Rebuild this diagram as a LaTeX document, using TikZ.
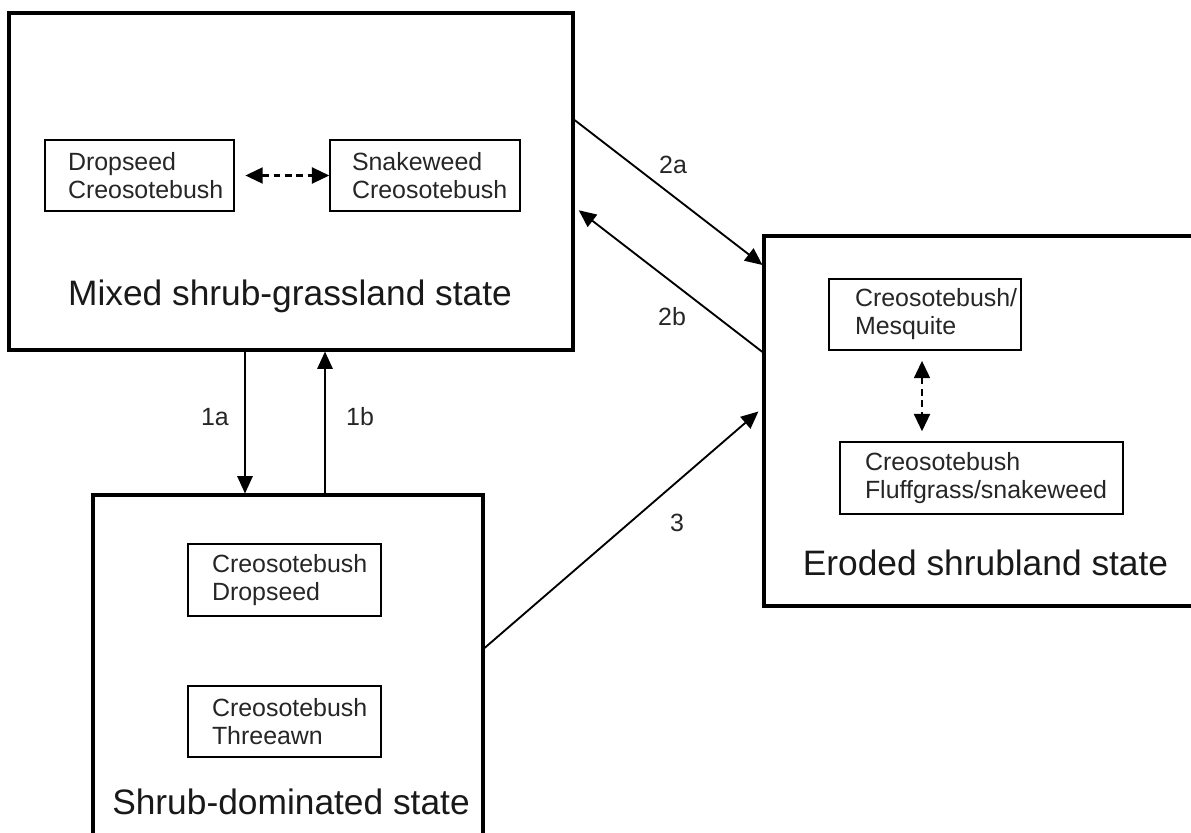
\documentclass[tikz,border=0pt]{standalone}
\usepackage{fontspec}
\setmainfont{Liberation Sans}
\usetikzlibrary{arrows.meta}
\begin{document}
\begin{tikzpicture}[x=0.75pt,y=-0.75pt,
  statebox/.style={draw, line width=2.3pt, inner sep=0pt},
  subbox/.style={draw, line width=1.1pt, inner ysep=0pt, align=left, text=black!85,
    font=\fontsize{18.7}{21}\selectfont, minimum height=53.5pt},
  title/.style={font=\fontsize{26.5}{30}\selectfont, inner sep=0pt, anchor=base, text=black!90},
  lab/.style={font=\fontsize{18.7}{21}\selectfont, inner sep=0pt, text=black!85},
  trans/.style={line width=1.4pt, -{Triangle[length=13pt,width=11.5pt]}},
  swaparrow/.style={line width=1.6pt, dash pattern=on 5pt off 3.5pt,
    {Triangle[length=13pt,width=12pt]}-{Triangle[length=13pt,width=12pt]}}
]
\useasboundingbox (0,0) rectangle (1191,832);
\clip (0,0) rectangle (1191,832);

% state boxes
\node[statebox, minimum width=423pt, minimum height=252.75pt] (A) at (291,181.5) {};
\node[statebox, minimum width=334.5pt, minimum height=277.5pt] (B) at (987,421) {};
\node[statebox, minimum width=292.5pt, minimum height=266.25pt] (C) at (288,672.5) {};

% titles
\node[title] (tA) at (290,305) {Mixed shrub-grassland state};
\node[title] (tB) at (985.5,575) {Eroded shrubland state};
\node[title] (tC) at (291,814) {Shrub-dominated state};

% community boxes
\node[subbox, minimum width=141.75pt, text width=107.25pt, inner xsep=17.25pt] (A1) at (139.5,175.5) {Dropseed\\Creosotebush};
\node[subbox, minimum width=142.5pt, text width=109.5pt, inner xsep=16.5pt] (A2) at (425,175.5) {Snakeweed\\Creosotebush};
\node[subbox, minimum width=144pt, text width=105pt, inner xsep=19.5pt] (B1) at (925,314.5) {Creosotebush/\\Mesquite};
\node[subbox, minimum width=212.25pt, text width=174.75pt, inner xsep=18.75pt, minimum height=54pt] (B2) at (981.5,478) {Creosotebush\\Fluffgrass/snakeweed};
\node[subbox, minimum width=144.75pt, text width=108.75pt, inner xsep=18pt, minimum height=54pt] (C1) at (284.5,580) {Creosotebush\\Dropseed};
\node[subbox, minimum width=144.75pt, text width=108.75pt, inner xsep=18pt] (C2) at (284.5,721.5) {Creosotebush\\Threeawn};

% helper coordinates
\coordinate (x1a) at (245,0);
\coordinate (x1b) at (325,0);
\coordinate (xb) at (922,0);
\coordinate (y2a) at (0,120);
\coordinate (y2ae) at (0,265);
\coordinate (y2b) at (0,352);
\coordinate (y2be) at (0,207);
\coordinate (y3) at (0,648);
\coordinate (y3e) at (0,408);

% within-state shifts
\draw[swaparrow, shorten <=8pt] (A1.east) -- (A2.west);
\draw[swaparrow, shorten <=7.5pt, shorten >=7.5pt] (B1.south -| xb) -- (B2.north -| xb);

% transitions
\draw[trans] (A.south -| x1a) -- (C.north -| x1a);
\draw[trans] (C.north -| x1b) -- (A.south -| x1b);
\draw[trans] (A.east |- y2a) -- (B.west |- y2ae);
\draw[trans, shorten >=4pt] (B.west |- y2b) -- (A.east |- y2be);
\draw[trans, shorten >=4pt] (C.east |- y3) -- (B.west |- y3e);

% labels
\node[lab] (l1a) at (215,417) {1a};
\node[lab] (l1b) at (360,417) {1b};
\node[lab] (l2a) at (673,165) {2a};
\node[lab] (l2b) at (672,317) {2b};
\node[lab] (l3) at (677,523) {3};
\end{tikzpicture}
\end{document}
